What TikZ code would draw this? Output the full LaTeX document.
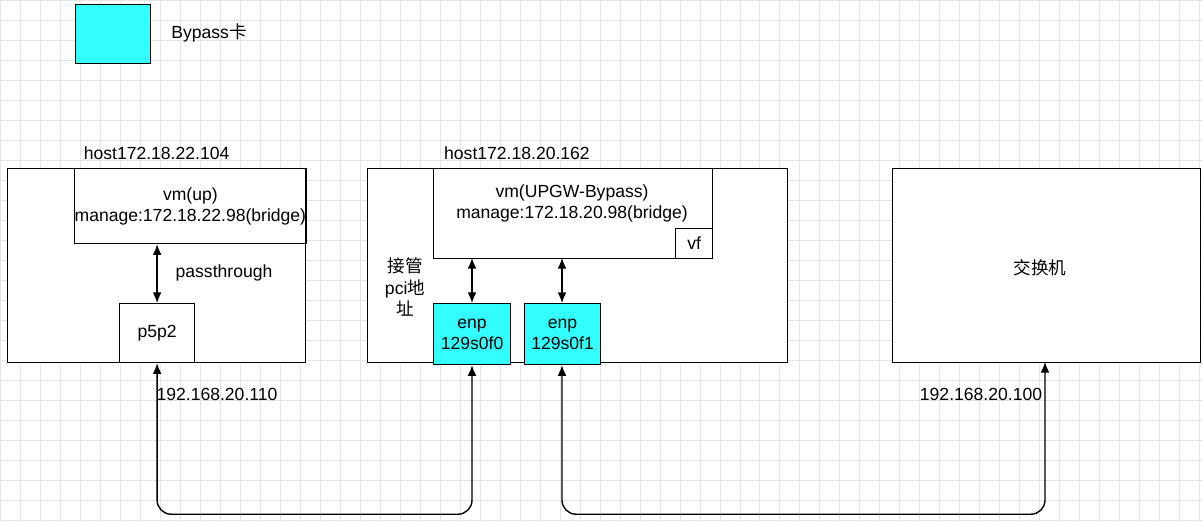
\documentclass[tikz,border=0pt]{standalone}
\usepackage{fontspec}
\setmainfont{Liberation Sans}
\newfontfamily\cjk{Noto Sans CJK SC}
\usetikzlibrary{arrows.meta,positioning}
\definecolor{bypass}{HTML}{33FFFF}
\definecolor{gridline}{HTML}{E4E4E4}
\begin{document}
\begin{tikzpicture}[x=0.02cm, y=-0.02cm,
    box/.style={draw, line width=0.7pt, inner sep=0pt, anchor=north west, align=center},
    lbl/.style={font=\fontsize{10}{12}\selectfont, align=center},
    link/.style={{Latex[length=6pt,width=5pt]}-{Latex[length=6pt,width=5pt]}, line width=0.8pt, rounded corners=8pt}]

    % Background and grid
    \useasboundingbox (0,0) rectangle (1202,522);
    \fill[white] (0,0) rectangle (1202,522);
    \draw[gridline, line width=0.4pt, step=0.4cm] (0,0) grid (1202,522);

    % Legend
    \node[box, fill=bypass, minimum width=1.5cm, minimum height=1.18cm] (legend) at (75,4) {};
    \node[lbl] (legendtxt) at (209,33) {Bypass{\cjk 卡}};

    % Host 1
    \node[box, fill=white, minimum width=5.96cm, minimum height=3.88cm] (hostA) at (7,168) {};
    \node[lbl, above=1pt of hostA.north] (hostAtxt) {host172.18.22.104};
    \node[box, minimum width=3.32cm, minimum height=1.5cm, lbl] (vmup) at (74,168)
        {vm(up)\\manage:172.18.22.98(bridge)};
    \node[box, minimum width=1.5cm, minimum height=1.18cm, lbl] (p5p2) at (119,303) {p5p2};
    \draw[link] (vmup.south -| p5p2.north) -- (p5p2.north);
    \node[lbl] (pass) at (224,273) {passthrough};

    % Host 2
    \node[box, fill=white, minimum width=8.4cm, minimum height=3.88cm] (hostB) at (367,168) {};
    \node[lbl, above=1pt of hostB.north west, xshift=3cm] (hostBtxt) {host172.18.20.162};
    \node[box, minimum width=5.58cm, minimum height=1.8cm] (vmgw) at (433,168) {};
    \node[lbl] (vmgwtxt) at (572,203) {vm(UPGW-Bypass)\\manage:172.18.20.98(bridge)};
    \node[box, minimum width=0.74cm, minimum height=0.6cm, lbl] (vf) at (675,228) {vf};
    \node[lbl, font=\fontsize{10}{12}\cjk] (take) at (405,287) {接管\\{\rmfamily pci}地\\址};
    \node[box, fill=bypass, minimum width=1.54cm, minimum height=1.22cm, lbl] (enpA) at (433,303) {enp\\129s0f0};
    \node[box, fill=bypass, minimum width=1.52cm, minimum height=1.22cm, lbl] (enpB) at (524,303) {enp\\129s0f1};
    \coordinate (vmA) at (472,258);
    \coordinate (vmB) at (562,258);
    \draw[link] (vmA) -- (vmA |- enpA.north);
    \draw[link] (vmB) -- (vmB |- enpB.north);

    % Switch
    \node[box, fill=white, minimum width=6.16cm, minimum height=3.88cm] (switch) at (892,168) {};
    \node[lbl, font=\fontsize{10}{12}\cjk] (switchtxt) at (1040,268) {交换机};

    % Addresses
    \node[lbl] (ipA) at (217,394) {192.168.20.110};
    \node[lbl] (ipB) at (981,394) {192.168.20.100};

    % Links
    \coordinate (swB) at (1045,362);
    \draw[link] (p5p2.south) -- ++(0,151) -| (enpA.south -| vmA);
    \draw[link] (enpB.south -| vmB) -- ++(0,149) -| (swB);
\end{tikzpicture}
\end{document}
